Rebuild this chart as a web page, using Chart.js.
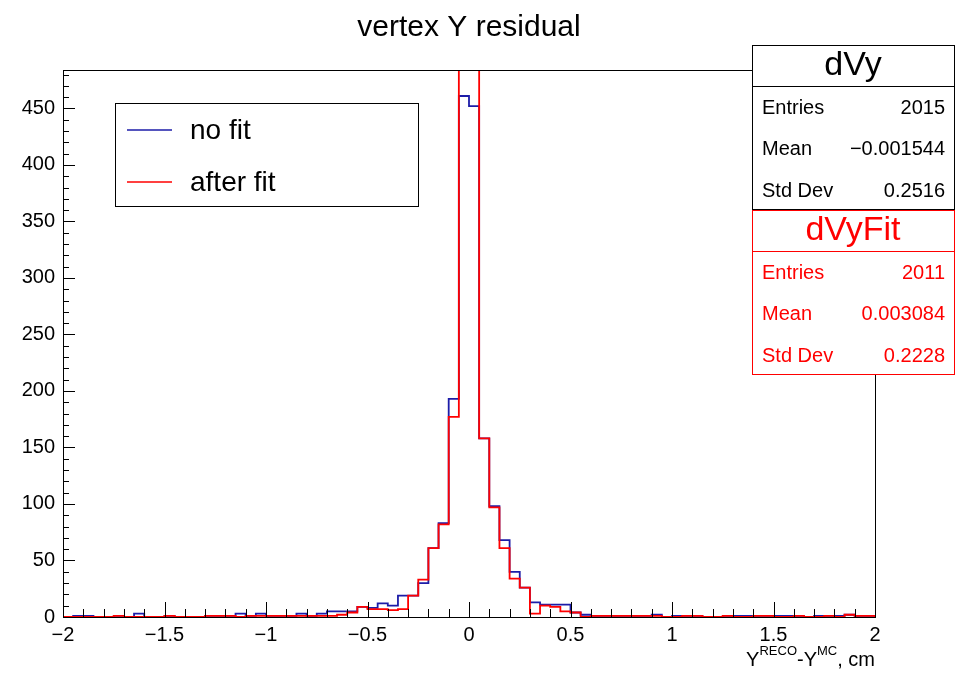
<!DOCTYPE html>
<html>
<head>
<meta charset="utf-8">
<script src="https://cdn.jsdelivr.net/npm/chart.js@4.4.0/dist/chart.umd.min.js"></script>
<style>
  html, body { margin: 0; padding: 0; background: #fff; }
  #wrap { width: 955px; height: 674px; }
</style>
</head>
<body>
<div id="wrap"><canvas id="histo"></canvas></div>
<script>
// binning of both histograms: 80 bins from -2 to 2
const xMin = -2;
const xMax = 2;
const binWidth = 0.05;

// counts per bin
const noFitCounts = [
  0, 1, 1, 0, 0, 1, 0, 3, 0, 0,
  1, 0, 0, 0, 1, 1, 1, 3, 1, 3,
  1, 1, 1, 3, 1, 3, 5, 5, 5, 9,
  8, 12, 10, 19, 19, 30, 61, 83, 193, 461,
  452, 158, 98, 68, 40, 26, 13, 11, 11, 11,
  4, 2, 1, 1, 1, 1, 1, 1, 2, 0,
  1, 1, 1, 0, 0, 1, 1, 1, 1, 1,
  1, 1, 1, 0, 1, 1, 1, 2, 1, 1
];
const afterFitCounts = [
  0, 0, 0, 0, 0, 1, 0, 0, 0, 0,
  1, 0, 0, 0, 1, 1, 1, 0, 1, 1,
  1, 1, 1, 1, 1, 1, 1, 2, 4, 9,
  7, 7, 6, 7, 19, 33, 61, 82, 177, 560,
  505, 158, 97, 61, 34, 26, 3, 10, 9, 5,
  4, 0, 1, 1, 1, 1, 1, 1, 1, 0,
  0, 1, 1, 0, 0, 1, 0, 0, 1, 1,
  0, 0, 1, 0, 0, 1, 0, 2, 1, 1
];

const xTickValues = [-2, -1.5, -1, -0.5, 0, 0.5, 1, 1.5, 2];
const xTickLabels = ['\u22122', '\u22121.5', '\u22121', '\u22120.5', '0', '0.5', '1', '1.5', '2'];
const yTickValues = [0, 50, 100, 150, 200, 250, 300, 350, 400, 450];
const yMax = 484;

const statLabels = ['Entries', 'Mean', 'Std Dev'];
const noFitStats = ['2015', '\u22120.001544', '0.2516'];
const afterFitStats = ['2011', '0.003084', '0.2228'];

const FONT = '"Liberation Sans", Arial, Helvetica, sans-serif';
const BLUE = '#1c1ca8';
const RED = '#ff0000';

// step points at the bin low edges
function histPoints(counts) {
  const pts = [{ x: xMin, y: 0 }];
  counts.forEach((c, i) => pts.push({ x: xMin + i * binWidth, y: c }));
  pts.push({ x: xMax, y: 0 });
  return pts;
}

const rootStyle = {
  id: 'rootStyle',
  afterDatasetsDraw(chart) {
    const ctx = chart.ctx;
    const a = chart.chartArea;
    const xs = chart.scales.x;
    const ys = chart.scales.y;
    ctx.save();
    ctx.strokeStyle = '#000';
    ctx.lineWidth = 1;
    ctx.beginPath();
    // x ticks, minor every 0.1
    for (let k = 0; k <= 40; k++) {
      const v = xMin + k * 0.1;
      const px = Math.round(xs.getPixelForValue(v)) + 0.5;
      const len = k % 5 === 0 ? 15 : 8;
      ctx.moveTo(px, a.bottom);
      ctx.lineTo(px, a.bottom - len);
    }
    // y ticks, minor every 10
    for (let v = 0; v <= yMax; v += 10) {
      const py = Math.round(ys.getPixelForValue(v)) + 0.5;
      const len = v % 50 === 0 ? 12 : 6;
      ctx.moveTo(a.left, py);
      ctx.lineTo(a.left + len, py);
    }
    ctx.stroke();
    // frame
    ctx.strokeRect(Math.round(a.left) + 0.5, Math.round(a.top) + 0.5,
      Math.round(a.right - a.left), Math.round(a.bottom - a.top));
    ctx.restore();
  },
  afterDraw(chart) {
    const ctx = chart.ctx;
    const a = chart.chartArea;
    ctx.save();

    // axis title Y^RECO-Y^MC, cm
    const big = '20px ' + FONT;
    const small = '13px ' + FONT;
    const parts = [['Y', big, 0], ['RECO', small, -11], ['-Y', big, 0], ['MC', small, -11], [', cm', big, 0]];
    let w = 0;
    parts.forEach(p => { ctx.font = p[1]; w += ctx.measureText(p[0]).width; });
    let x = a.right - w;
    ctx.fillStyle = '#000';
    ctx.textBaseline = 'alphabetic';
    ctx.textAlign = 'left';
    parts.forEach(p => {
      ctx.font = p[1];
      ctx.fillText(p[0], x, 666 + p[2]);
      x += ctx.measureText(p[0]).width;
    });

    // legend box
    const lg = { l: 115, t: 103, r: 418, b: 206 };
    ctx.fillStyle = '#fff';
    ctx.fillRect(lg.l, lg.t, lg.r - lg.l, lg.b - lg.t);
    ctx.strokeStyle = '#000';
    ctx.lineWidth = 1;
    ctx.strokeRect(lg.l + 0.5, lg.t + 0.5, lg.r - lg.l, lg.b - lg.t);
    ctx.font = '28px ' + FONT;
    ctx.textBaseline = 'middle';
    const rows = [130, 182];
    chart.data.datasets.slice().reverse().forEach((ds, i) => {
      ctx.strokeStyle = ds.borderColor;
      ctx.lineWidth = 1.6;
      ctx.beginPath();
      ctx.moveTo(127, rows[i]);
      ctx.lineTo(172, rows[i]);
      ctx.stroke();
      ctx.fillStyle = '#000';
      ctx.fillText(ds.label, 190, rows[i] + 1);
    });

    // stats boxes
    function statBox(top, name, values, color) {
      const l = 752, r = 954, h = 164;
      ctx.fillStyle = '#fff';
      ctx.fillRect(l, top, r - l, h);
      ctx.strokeStyle = color;
      ctx.lineWidth = 1;
      ctx.strokeRect(l + 0.5, top + 0.5, r - l, h);
      ctx.beginPath();
      ctx.moveTo(l, top + 41.5);
      ctx.lineTo(r, top + 41.5);
      ctx.stroke();
      ctx.fillStyle = color;
      ctx.textBaseline = 'middle';
      ctx.textAlign = 'center';
      ctx.font = '34px ' + FONT;
      ctx.fillText(name, (l + r) / 2, top + 21);
      ctx.font = '20px ' + FONT;
      statLabels.forEach((lab, i) => {
        const y = top + 63 + i * 41.5;
        ctx.textAlign = 'left';
        ctx.fillText(lab, 762, y);
        ctx.textAlign = 'right';
        ctx.fillText(values[i], 945, y);
      });
    }
    statBox(45, 'dVy', noFitStats, '#000');
    statBox(210, 'dVyFit', afterFitStats, RED);
    ctx.restore();
  }
};

new Chart(document.getElementById('histo'), {
  type: 'line',
  data: {
    datasets: [
      {
        label: 'after fit',
        data: histPoints(afterFitCounts),
        borderColor: RED,
        borderWidth: 1.8,
        stepped: 'before',
        pointRadius: 0,
        fill: false,
        order: 1
      },
      {
        label: 'no fit',
        data: histPoints(noFitCounts),
        borderColor: BLUE,
        borderWidth: 1.8,
        stepped: 'before',
        pointRadius: 0,
        fill: false,
        order: 2
      }
    ]
  },
  options: {
    responsive: true,
    maintainAspectRatio: false,
    animation: false,
    layout: { padding: { top: 0, right: 80, left: 0, bottom: 0 } },
    plugins: {
      legend: { display: false },
      tooltip: { enabled: false },
      title: {
        display: true,
        text: 'vertex Y residual',
        fullSize: false,
        color: '#000',
        font: { family: FONT, size: 30, weight: 'normal', lineHeight: 1.2 },
        padding: { top: 10, bottom: 24 }
      }
    },
    scales: {
      x: {
        type: 'linear',
        min: xMin,
        max: xMax,
        grid: { display: false, drawTicks: false },
        border: { display: false },
        afterBuildTicks: s => { s.ticks = xTickValues.map(v => ({ value: v })); },
        afterFit: s => { s.height = 57; },
        ticks: {
          color: '#000',
          padding: 6,
          maxRotation: 0,
          autoSkip: false,
          font: { family: FONT, size: 20 },
          callback: (v, i) => xTickLabels[i]
        }
      },
      y: {
        min: 0,
        max: yMax,
        grid: { display: false, drawTicks: false },
        border: { display: false },
        afterBuildTicks: s => { s.ticks = yTickValues.map(v => ({ value: v })); },
        afterFit: s => { s.width = 63; },
        ticks: {
          color: '#000',
          padding: 8,
          autoSkip: false,
          font: { family: FONT, size: 20 }
        }
      }
    }
  },
  plugins: [rootStyle]
});
</script>
</body>
</html>
